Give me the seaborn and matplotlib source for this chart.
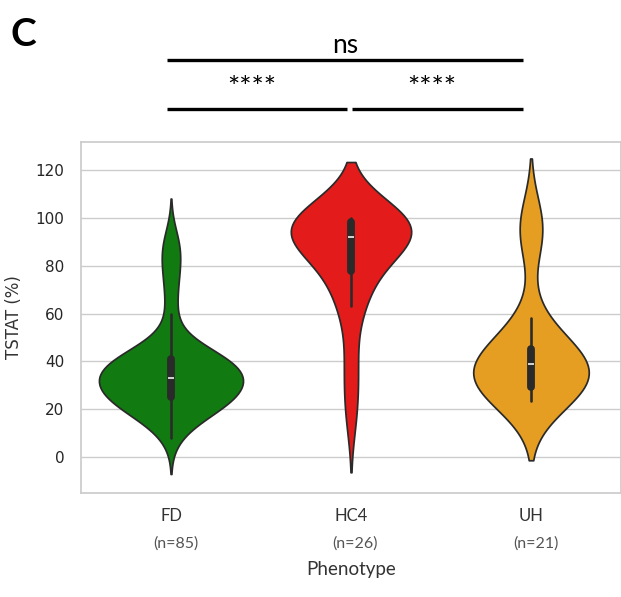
"""
Violin plot of TSTAT (%) by phenotype with significance brackets (panel C).
"""

import matplotlib.pyplot as plt
import matplotlib.transforms as mtransforms
from matplotlib.lines import Line2D
import pandas as pd
import seaborn as sns

# data
phenotypes = ['FD', 'HC4', 'UH']
fd_tstat = [8, 11, 13, 15, 16, 17, 18, 19, 19, 20, 20, 21, 21, 22, 22, 23, 23, 23, 24, 24, 24,
            25,
            25, 26, 26, 27, 27, 28, 28, 29, 29, 29, 30, 30, 30, 31, 31, 31, 32, 32, 32, 33,
            33,
            33, 34, 34, 35, 35, 35, 36, 36, 37, 37, 38, 38, 39, 39, 39, 40, 40, 40, 41, 41,
            41,
            42, 42, 42, 42, 43, 43, 44, 45, 47, 51, 56, 60,
            67, 71, 75, 79, 82, 85, 87, 90, 93]
hc4_tstat = [17, 31, 44, 63, 66, 70, 77, 80, 86, 88, 89, 90, 91, 93, 94, 95, 96, 97, 98, 98.5,
             99, 99, 100, 100, 100, 100]
uh_tstat = [23.5, 25, 27, 28, 29, 29.5, 31, 33, 35, 37, 39, 40, 41, 42, 43, 45, 50, 58, 90, 96, 100]
colors = ['#117a11', '#e41b1b', '#e59e22']
# (group a, group b, label, level) -- level 1 is the upper bracket
comparisons = [('FD', 'UH', 'ns', 1), ('FD', 'HC4', '****', 0), ('HC4', 'UH', '****', 0)]


def violinPlot():
    groups = [fd_tstat, hc4_tstat, uh_tstat]
    df = pd.DataFrame({'Phenotype': [p for p, g in zip(phenotypes, groups) for _ in g],
                       'TSTAT': [v for g in groups for v in g]})

    sns.set(style='whitegrid')
    fig = plt.figure(figsize=(6.21, 5.97), dpi=100)
    ax = fig.add_axes([0.1304, 0.1742, 0.8696, 0.5879])

    sns.violinplot(data=df, x='Phenotype', y='TSTAT', hue='Phenotype', palette=colors, saturation=1,
                   common_norm=True, legend=False, ax=ax)
    ax.set_ylim(-15, 131.7)
    ax.set_xlim(-0.5, 2.5)
    ax.set_ylabel('TSTAT (%)', fontsize=12, color='#333333')
    ax.yaxis.set_label_coords(-0.107, 0.5)
    ax.tick_params(axis='y', pad=6)

    # category labels, counts and axis title in the slide font
    ax.set_xticks(range(len(phenotypes)))
    ax.set_xticklabels(phenotypes, fontfamily='Lato', fontsize=12, color='#333333')
    ax.tick_params(axis='x', pad=4.5)
    ax.set_xlabel('Phenotype', fontfamily='Lato', fontsize=13.5, color='#333333')
    ax.xaxis.set_label_coords(0.5, -0.195)

    tr = mtransforms.blended_transform_factory(ax.transData, ax.transAxes)
    for i, g in enumerate(groups):
        ax.text(i + 0.025, -0.145, '(n={})'.format(len(g)), transform=tr, ha='center', va='center',
                fontfamily='Lato', fontsize=11.5, color='#555555')

    # significance brackets above the axes
    trf = mtransforms.blended_transform_factory(ax.transData, fig.transFigure)
    line_y = {1: 0.8995, 0: 0.8174}
    text_y = {1: 0.9246, 0: 0.851}
    for a, b, label, level in comparisons:
        i, j = phenotypes.index(a), phenotypes.index(b)
        x0 = i - 0.02 if i == 0 else i + 0.006
        x1 = j - 0.045 if j == len(phenotypes) - 1 else j - 0.02
        fig.add_artist(Line2D([x0, x1], [line_y[level]] * 2, transform=trf, color='black', lw=2.4,
                              solid_capstyle='butt'))
        size = 19 if label == 'ns' else 21
        fig.text((x0 + x1) / 2 - (0 if level else 0.03), text_y[level], label, transform=trf,
                 ha='center', va='center', fontfamily='Lato', fontsize=size, color='black')

    fig.text(10 / 621, 1 - 17 / 597, 'C', ha='left', va='top', fontfamily='Lato', fontweight='bold',
             fontsize=28, color='black')

    fig.savefig('out.png', dpi=100)


if __name__ == '__main__':
    violinPlot()
